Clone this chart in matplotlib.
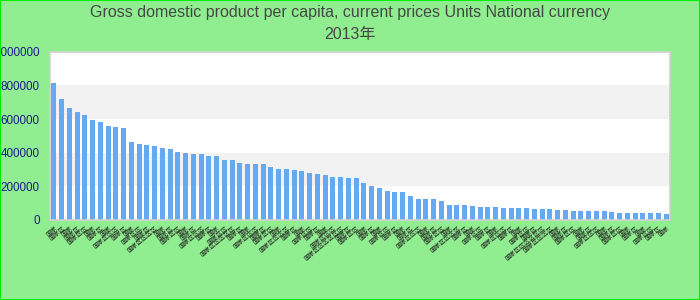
import matplotlib.pyplot as plt
from matplotlib.patches import Rectangle
import numpy as np

# values (80 bars, sorted descending)
values = [
    814000, 719000, 665000, 642000, 624000, 594000, 582000, 558000, 552000, 547000,
    463000, 451000, 446000, 440000, 428000, 422000, 404000, 398000, 392000, 392000,
    380000, 380000, 356000, 356000, 339000, 333000, 333000, 333000, 315000, 303000,
    303000, 297000, 291000, 279000, 273000, 267000, 255000, 255000, 250000, 250000,
    220000, 202000, 190000, 172000, 166000, 166000, 143000, 125000, 125000, 125000,
    113000, 89000, 89000, 89000, 83000, 77000, 77000, 77000, 71000, 71000,
    71000, 71000, 65000, 65000, 65000, 59000, 59000, 53000, 53000, 53000,
    53000, 53000, 48000, 42000, 42000, 42000, 42000, 42000, 42000, 36000,
]
# category names are unreadable in the reference; placeholders of similar length
label_lengths = [2, 3, 2, 3, 4, 2, 3, 2, 5, 3, 2, 4, 3, 6, 2, 3, 4, 2, 3, 5,
                 3, 2, 4, 7, 3, 2, 5, 3, 4, 2, 6, 3, 2, 4, 3, 2, 5, 8, 3, 4,
                 2, 3, 2, 4, 3, 2, 3, 5, 2, 3, 4, 2, 6, 3, 2, 4, 3, 2, 5, 3,
                 2, 4, 3, 8, 6, 2, 3, 4, 2, 3, 5, 2, 3, 4, 2, 3, 2, 4, 3, 2]
categories = ["国家" + "区" * (n - 2) if n > 2 else "国家" for n in label_lengths]
title_line1 = "Gross domestic product per capita, current prices Units National currency"
title_line2 = "2013年"
yticks = [0, 200000, 400000, 600000, 800000, 1000000]

plt.rcParams['font.family'] = ['Liberation Sans', 'Noto Sans CJK SC', 'DejaVu Sans']

fig = plt.figure(figsize=(7, 3), dpi=100, facecolor='#90ee90')
ax = fig.add_axes([50 / 700, 80 / 300, 620 / 700, 168.3 / 300])
ax.set_facecolor('white')

# alternating horizontal bands
for i in range(len(yticks) - 1):
    if i % 2 == 1:
        ax.axhspan(yticks[i], yticks[i + 1], color='#f2f2f2', zorder=0, lw=0)

x = np.arange(len(values))
ax.bar(x, values, width=0.65, color='#64a9f1', zorder=2)

ax.set_xlim(-0.5, len(values) - 0.5)
ax.set_ylim(0, 1000000)
ax.set_yticks(yticks)
ax.set_yticklabels([str(v) for v in yticks], color='#1c1c8a', fontsize=8.4)
ax.set_xticks(x)
ax.set_xticklabels(categories, rotation=40, ha='right', rotation_mode='anchor',
                   fontsize=4.5, color='#222222',
                   family=['Noto Sans CJK SC', 'DejaVu Sans'])
ax.tick_params(axis='y', length=0, pad=7.5)
ax.tick_params(axis='x', length=0, pad=3)
for side in ax.spines.values():
    side.set_color('#d0d0d0')
    side.set_linewidth(1.2)

# two-line title
fig.text(0.5, 1 - 13 / 300, title_line1, ha='center', va='center',
         fontsize=11.5, color='#464646')
fig.text(0.5, 1 - 35 / 300, title_line2, ha='center', va='center',
         fontsize=11.5, color='#464646')

# green outline around the whole picture
fig.patches.append(Rectangle((0, 0), 1, 1, transform=fig.transFigure, fill=False,
                             edgecolor='#00ee00', linewidth=1.5))

fig.savefig('out.png', dpi=100, facecolor=fig.get_facecolor())
